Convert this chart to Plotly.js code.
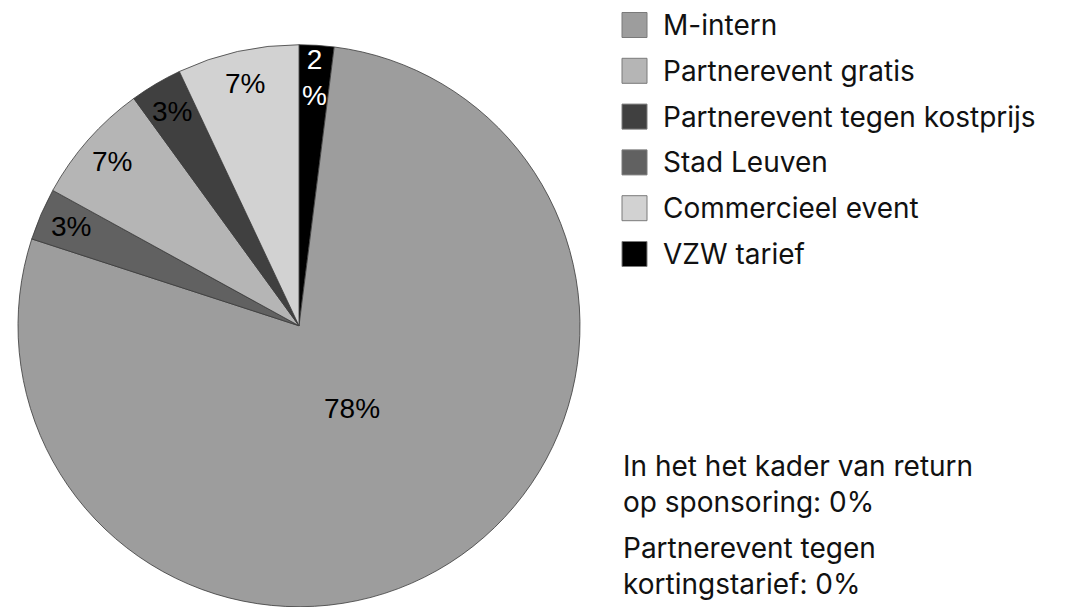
<!DOCTYPE html>
<html>
<head>
<meta charset="utf-8">
<script src="https://cdn.plot.ly/plotly-3.0.1.min.js"></script>
<style>
html,body{margin:0;padding:0;background:#fff;overflow:hidden;}
#chart{width:1074px;height:607px;}
</style>
</head>
<body>
<div id="chart"></div>
<script>
// ---- data ----
const sliceLabels = ['VZW tarief', 'M-intern', 'Stad Leuven', 'Partnerevent gratis', 'Partnerevent tegen kostprijs', 'Commercieel event'];
const sliceValues = [2, 78, 3, 7, 3, 7];
const sliceText = ['2<br>%', '78%', '3%', '7%', '3%', '7%'];
const legendOrder = ['M-intern', 'Partnerevent gratis', 'Partnerevent tegen kostprijs', 'Stad Leuven', 'Commercieel event', 'VZW tarief'];
const noteLines1 = ['In het het kader van return', 'op sponsoring: 0%'];
const noteLines2 = ['Partnerevent tegen', 'kortingstarief: 0%'];

// ---- styles ----
const colorOf = {
  'M-intern': '#9d9d9d',
  'Partnerevent gratis': '#b5b5b5',
  'Partnerevent tegen kostprijs': '#404040',
  'Stad Leuven': '#616161',
  'Commercieel event': '#d2d2d2',
  'VZW tarief': '#000000'
};
const W = 1074, H = 607;
const FONT = 'Inter, "DejaVu Sans", sans-serif';
const px = x => x / W;
const py = y => (H - y) / H;

// pie geometry (pixels)
const PX0 = 18, PX1 = 580, PY0 = 44.5, PY1 = H;
const R = Math.min(PX1 - PX0, PY1 - PY0) / 2;
const CX = (PX0 + PX1) / 2, CY = (PY0 + PY1) / 2;

const pie = {
  type: 'pie',
  labels: sliceLabels,
  values: sliceValues,
  textinfo: 'none',
  sort: false,
  direction: 'clockwise',
  rotation: 0,
  showlegend: false,
  hoverinfo: 'label+percent',
  marker: {
    colors: sliceLabels.map(l => colorOf[l]),
    line: {color: '#3a3a3a', width: 0.8}
  },
  domain: {x: [px(PX0), px(PX1)], y: [0, py(PY0)]}
};

const shapes = [];
const annotations = [];

// slice labels placed along each slice's mid angle
const total = sliceValues.reduce((a, b) => a + b, 0);
let cum = 0;
sliceValues.forEach((v, i) => {
  const mid = (cum + v / 2) / total * 2 * Math.PI;
  cum += v;
  const frac = v / total > 0.5 ? 0.35 : 0.885;
  const x = CX + R * frac * Math.sin(mid);
  const y = CY - R * frac * Math.cos(mid);
  annotations.push({
    xref: 'paper', yref: 'paper', x: px(x), y: py(y), xanchor: 'center', yanchor: 'middle',
    text: sliceText[i], showarrow: false,
    font: {family: '"Liberation Sans", Arial, sans-serif', size: 28,
           color: sliceLabels[i] === 'VZW tarief' ? '#ffffff' : '#000000'}
  });
});

// legend
const legTop = 25, legStep = 45.8, sq = 25;
legendOrder.forEach((name, i) => {
  const cy = legTop + i * legStep;
  shapes.push({
    type: 'rect', xref: 'paper', yref: 'paper',
    x0: px(622), x1: px(622 + sq), y0: py(cy - sq / 2), y1: py(cy + sq / 2),
    fillcolor: colorOf[name], line: {color: '#7a7a7a', width: 1}
  });
  annotations.push({
    xref: 'paper', yref: 'paper', x: px(661), y: py(cy), xanchor: 'left', yanchor: 'middle',
    text: name, showarrow: false, font: {family: FONT, size: 28, color: '#111'}
  });
});

// notes
function addNote(lines, center) {
  annotations.push({
    xref: 'paper', yref: 'paper', x: px(621), y: py(center), xanchor: 'left', yanchor: 'middle',
    align: 'left', text: lines.join('<br>'), showarrow: false,
    font: {family: FONT, size: 28, color: '#111'}
  });
}
addNote(noteLines1, 484);
addNote(noteLines2, 566);

const layout = {
  width: W, height: H,
  margin: {l: 0, r: 0, t: 0, b: 0},
  paper_bgcolor: '#ffffff',
  plot_bgcolor: '#ffffff',
  showlegend: false,
  shapes: shapes,
  annotations: annotations
};

Plotly.newPlot('chart', [pie], layout, {displayModeBar: false, staticPlot: true});
</script>
</body>
</html>
